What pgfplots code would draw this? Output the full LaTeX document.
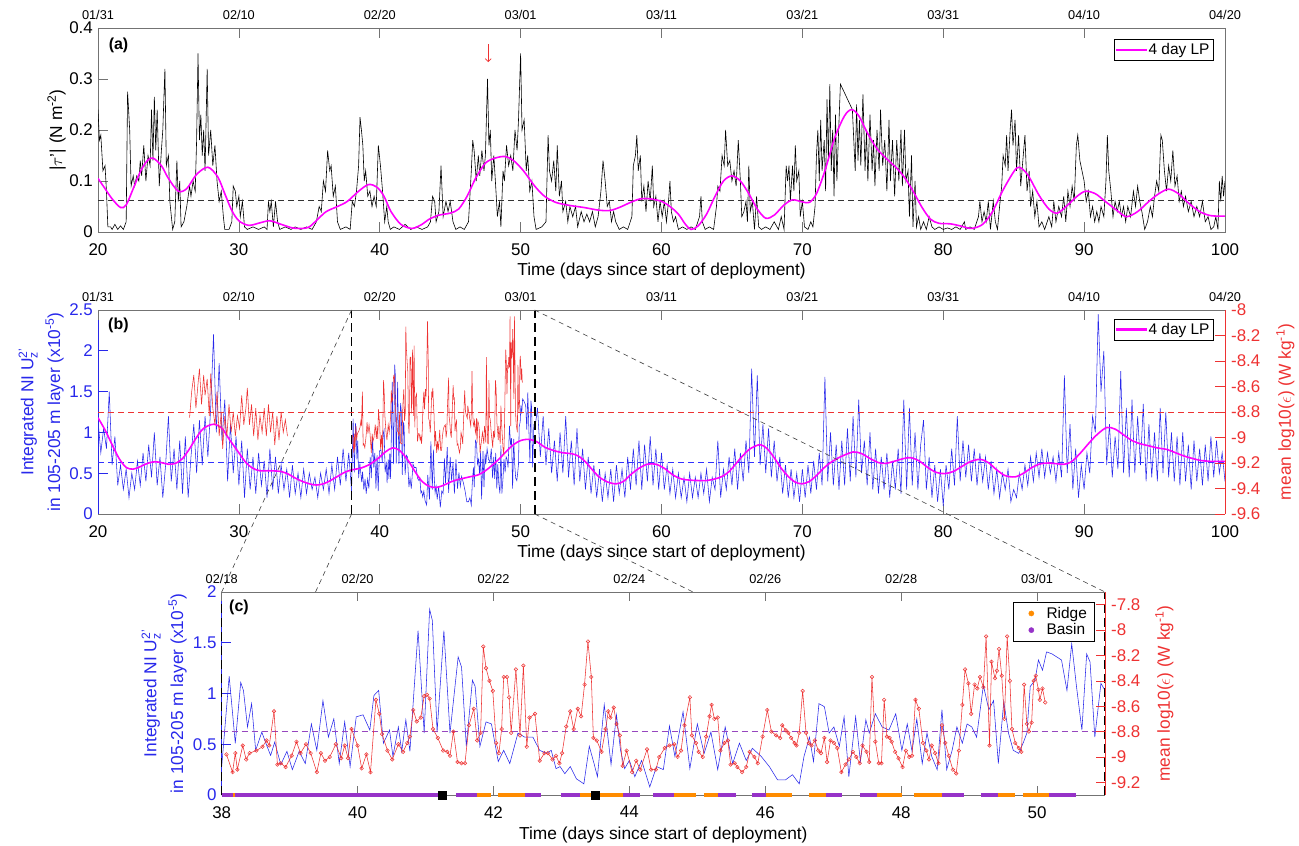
\documentclass[border=0pt]{standalone}
\usepackage{fontspec}
\setmainfont{Liberation Sans}
\usepackage{amsmath}
\usepackage{pgfplots}
\pgfplotsset{compat=1.18}
\usepackage{pgfplotstable}
\usetikzlibrary{arrows.meta}

\definecolor{lpmag}{RGB}{255,0,255}
\definecolor{ridge}{RGB}{255,140,0}
\definecolor{basin}{RGB}{150,50,200}
\definecolor{axgray}{RGB}{115,115,115}
\definecolor{dashpurp}{RGB}{150,70,190}
\definecolor{myred}{RGB}{238,50,50}
\definecolor{myblue}{RGB}{40,40,235}
\definecolor{dashblue}{RGB}{50,50,255}

\newcommand{\tfs}{\fontsize{17}{20}\selectfont}
\newcommand{\lfs}{\fontsize{17.4}{21}\selectfont}
\newcommand{\dfs}{\fontsize{12.8}{15}\selectfont}
\newcommand{\gfs}{\fontsize{15.5}{18}\selectfont}
\newcommand{\pfs}{\bfseries\fontsize{16}{19}\selectfont}

\pgfplotsset{
 base/.style={
  scale only axis, anchor=south west,
  tick align=inside, major tick length=10bp,
  scaled ticks=false,
  /pgf/number format/assume math mode=true,
  tick label style={font=\tfs},
  label style={font=\lfs},
  axis line style={axgray, line width=0.6pt},
  tick style={axgray, line width=0.6pt},
  x axis line style={-}, y axis line style={-},
  every outer x axis line/.append style={-},
  every outer y axis line/.append style={-},
 },
 botx/.style={xticklabel style={inner sep=0pt, anchor=north, yshift=-11bp},
   xlabel style={inner sep=0pt, at={(axis description cs:0.5,#1)}, anchor=north}},
 topx/.style={xticklabel style={font=\dfs, inner sep=0pt, anchor=south, yshift=8bp}},
 lpkey/.style={legend image code/.code={\fill[color=lpmag] (0bp,-0.8bp) rectangle (30bp,0.8bp);}},
 ridgekey/.style={legend image code/.code={\fill[color=ridge] (13bp,0bp) circle[radius=2.6bp]; \path (0bp,0bp) (26bp,0bp);}},
 basinkey/.style={legend image code/.code={\fill[color=basin] (13bp,0bp) circle[radius=2.6bp]; \path (0bp,0bp) (26bp,0bp);}},
}

% ---------------- panel (a) data ----------------
\pgfplotstableread{
x y
20.0 0.24
20.1 0.18
20.2 0.19
20.35 0.12
20.5 0.13
20.6 0.08
20.7 0.01
20.9 0.01
21.0 0.005
21.2 0.015
21.4 0.005
21.6 0.012
21.8 0.005
22.0 0.02
22.1 0.275
22.25 0.2
22.35 0.09
22.5 0.11
22.6 0.09
22.75 0.11
22.9 0.1
23.0 0.14
23.1 0.11
23.25 0.17
23.4 0.1
23.55 0.15
23.7 0.13
23.8 0.24
23.9 0.14
24.0 0.265
24.1 0.16
24.2 0.24
24.35 0.09
24.5 0.16
24.6 0.2
24.75 0.32
24.85 0.13
25.0 0.15
25.1 0.06
25.3 0.005
25.45 0.02
25.6 0.14
25.7 0.06
25.8 0.1
25.9 0.01
26.1 0.02
26.3 0.05
26.5 0.09
26.6 0.07
26.75 0.1
26.9 0.08
27.0 0.18
27.1 0.35
27.2 0.18
27.3 0.23
27.4 0.15
27.5 0.2
27.6 0.12
27.75 0.32
27.85 0.15
28.0 0.2
28.15 0.13
28.3 0.17
28.45 0.1
28.6 0.06
28.75 0.08
28.9 0.03
29.0 0.005
29.3 0.005
29.5 0.02
29.6 0.09
29.75 0.08
29.85 0.05
30.0 0.07
30.1 0.03
30.25 0.06
30.4 0.01
30.6 0.005
31.0 0.01
31.4 0.005
31.8 0.01
32.0 0.005
32.1 0.06
32.2 0.04
32.3 0.06
32.45 0.01
32.6 0.06
32.75 0.02
32.9 0.005
33.3 0.01
33.7 0.005
34.0 0.01
34.4 0.005
34.8 0.01
35.2 0.005
35.5 0.02
35.7 0.05
35.85 0.04
36.0 0.1
36.15 0.08
36.3 0.16
36.45 0.12
36.55 0.13
36.7 0.07
36.85 0.09
37.0 0.02
37.2 0.005
37.6 0.01
37.9 0.005
38.05 0.06
38.2 0.05
38.35 0.08
38.5 0.13
38.6 0.225
38.7 0.2
38.8 0.17
38.9 0.1
39.0 0.12
39.15 0.07
39.3 0.08
39.45 0.05
39.6 0.07
39.75 0.05
39.9 0.17
40.05 0.13
40.2 0.08
40.35 0.02
40.5 0.05
40.6 0.02
40.75 0.005
41.0 0.01
41.4 0.005
41.8 0.015
42.2 0.005
42.6 0.01
43.0 0.005
43.4 0.01
43.6 0.02
43.75 0.07
43.9 0.06
44.0 0.02
44.2 0.04
44.35 0.13
44.5 0.03
44.7 0.06
44.85 0.04
45.0 0.06
45.2 0.02
45.4 0.005
45.7 0.01
46.0 0.005
46.3 0.02
46.5 0.12
46.6 0.18
46.7 0.16
46.85 0.1
47.0 0.15
47.1 0.11
47.25 0.16
47.4 0.12
47.5 0.15
47.65 0.3
47.75 0.17
47.85 0.2
47.95 0.1
48.1 0.15
48.25 0.08
48.35 0.03
48.5 0.06
48.6 0.01
48.75 0.12
48.85 0.1
49.0 0.17
49.15 0.13
49.3 0.15
49.45 0.12
49.6 0.2
49.75 0.16
49.85 0.22
50.0 0.35
50.1 0.2
50.25 0.22
50.4 0.12
50.5 0.15
50.65 0.08
50.8 0.1
50.95 0.03
51.1 0.005
51.5 0.01
51.8 0.02
51.95 0.19
52.05 0.12
52.2 0.1
52.35 0.14
52.5 0.08
52.6 0.17
52.75 0.07
52.9 0.1
53.0 0.04
53.2 0.06
53.35 0.02
53.5 0.05
53.7 0.03
53.9 0.05
54.05 0.01
54.3 0.04
54.5 0.02
54.7 0.035
54.9 0.02
55.1 0.04
55.3 0.01
55.5 0.03
55.7 0.08
55.85 0.14
56.0 0.1
56.15 0.05
56.3 0.06
56.45 0.02
56.6 0.04
56.75 0.02
57.0 0.005
57.3 0.01
57.6 0.005
57.9 0.03
58.0 0.13
58.15 0.15
58.25 0.19
58.35 0.12
58.5 0.15
58.6 0.06
58.75 0.09
58.9 0.04
59.05 0.1
59.2 0.06
59.35 0.13
59.45 0.05
59.6 0.07
59.75 0.02
59.9 0.06
60.05 0.03
60.2 0.06
60.35 0.02
60.5 0.06
60.6 0.1
60.7 0.04
60.85 0.02
61.0 0.03
61.2 0.005
61.5 0.01
61.8 0.005
62.1 0.01
62.4 0.005
62.7 0.03
62.8 0.07
62.9 0.02
63.1 0.005
63.4 0.01
63.7 0.005
63.9 0.05
64.0 0.09
64.15 0.08
64.3 0.15
64.45 0.13
64.55 0.2
64.7 0.13
64.85 0.14
65.0 0.1
65.15 0.12
65.3 0.09
65.45 0.18
65.6 0.1
65.7 0.03
65.85 0.04
66.0 0.06
66.1 0.02
66.2 0.13
66.3 0.04
66.45 0.06
66.6 0.005
66.75 0.07
66.9 0.01
67.1 0.005
67.4 0.01
67.7 0.005
68.0 0.02
68.3 0.005
68.5 0.03
68.7 0.005
68.85 0.13
68.95 0.1
69.05 0.13
69.15 0.06
69.3 0.13
69.4 0.08
69.5 0.17
69.6 0.1
69.75 0.12
69.85 0.03
70.0 0.06
70.15 0.01
70.4 0.005
70.6 0.02
70.75 0.01
70.9 0.05
71.0 0.15
71.1 0.2
71.2 0.1
71.3 0.22
71.4 0.12
71.55 0.18
71.65 0.08
71.75 0.26
71.85 0.14
71.95 0.29
72.05 0.12
72.15 0.2
72.25 0.07
72.35 0.23
72.45 0.1
72.55 0.18
72.7 0.29
73.55 0.24
73.65 0.18
73.75 0.12
73.85 0.25
73.95 0.14
74.05 0.22
74.15 0.13
74.3 0.27
74.45 0.12
74.55 0.2
74.65 0.1
74.8 0.23
74.95 0.12
75.05 0.18
75.15 0.09
75.3 0.2
75.45 0.12
75.55 0.24
75.7 0.13
75.85 0.18
76.0 0.08
76.15 0.22
76.25 0.1
76.4 0.18
76.55 0.07
76.7 0.18
76.85 0.1
77.0 0.2
77.1 0.09
77.25 0.2
77.35 0.1
77.5 0.12
77.6 0.03
77.75 0.15
77.85 0.01
78.0 0.1
78.1 0.01
78.25 0.03
78.4 0.005
78.6 0.02
78.8 0.005
79.0 0.03
79.2 0.01
79.4 0.005
79.7 0.01
80.0 0.005
80.3 0.008
80.6 0.005
80.9 0.01
81.2 0.005
81.5 0.02
81.6 0.005
81.9 0.01
82.2 0.005
82.5 0.03
82.6 0.06
82.75 0.02
82.9 0.04
83.05 0.02
83.2 0.06
83.35 0.005
83.55 0.06
83.7 0.02
83.85 0.005
84.0 0.05
84.15 0.09
84.25 0.15
84.4 0.13
84.5 0.19
84.6 0.12
84.75 0.2
84.85 0.24
84.95 0.17
85.1 0.22
85.2 0.12
85.35 0.19
85.5 0.09
85.65 0.14
85.8 0.19
85.95 0.08
86.1 0.12
86.2 0.05
86.35 0.08
86.5 0.03
86.65 0.06
86.8 0.01
87.0 0.02
87.2 0.005
87.5 0.03
87.7 0.01
87.85 0.06
88.0 0.02
88.2 0.05
88.4 0.03
88.55 0.07
88.7 0.02
88.85 0.08
89.0 0.05
89.15 0.09
89.3 0.06
89.45 0.17
89.55 0.19
89.7 0.14
89.85 0.12
90.0 0.1
90.15 0.06
90.3 0.08
90.45 0.03
90.6 0.05
90.75 0.02
90.9 0.04
91.05 0.02
91.2 0.05
91.4 0.03
91.55 0.1
91.65 0.19
91.75 0.12
91.9 0.08
92.05 0.03
92.2 0.06
92.35 0.04
92.5 0.06
92.65 0.03
92.8 0.05
92.95 0.02
93.1 0.05
93.3 0.03
93.5 0.08
93.65 0.05
93.8 0.09
93.95 0.06
94.1 0.04
94.3 0.005
94.5 0.02
94.7 0.05
94.85 0.03
95.0 0.07
95.15 0.1
95.3 0.08
95.45 0.19
95.55 0.18
95.7 0.12
95.85 0.08
96.0 0.13
96.15 0.1
96.3 0.16
96.45 0.09
96.6 0.11
96.75 0.06
96.9 0.08
97.05 0.05
97.2 0.07
97.4 0.04
97.6 0.06
97.8 0.03
98.0 0.05
98.2 0.03
98.4 0.06
98.6 0.02
98.8 0.03
99.0 0.005
99.2 0.01
99.35 0.03
99.5 0.005
99.6 0.1
99.7 0.06
99.8 0.11
99.9 0.07
100.0 0.1
}\taua

\pgfplotstableread{
x y
20 0.105
20.5 0.085
21 0.065
21.6 0.048
22 0.053
22.5 0.085
23 0.118
23.5 0.14
23.9 0.145
24.5 0.13
25 0.105
25.7 0.08
26.3 0.085
27 0.113
27.8 0.127
28.5 0.108
29 0.075
29.5 0.042
30 0.022
30.7 0.013
31.5 0.018
32.2 0.022
33 0.015
33.8 0.008
34.5 0.007
35 0.01
35.6 0.025
36.2 0.04
37 0.05
37.7 0.06
38.5 0.08
39.2 0.093
39.8 0.088
40.3 0.07
40.8 0.04
41.5 0.015
42.3 0.007
43 0.015
43.5 0.025
44.2 0.033
45 0.037
45.6 0.045
46.2 0.07
46.8 0.105
47.5 0.135
48.2 0.145
48.9 0.148
49.5 0.14
50.2 0.12
51 0.09
51.7 0.07
52.5 0.058
53.5 0.052
54.5 0.048
55.5 0.043
56.3 0.042
57 0.048
57.8 0.058
58.5 0.065
59.2 0.065
60 0.06
60.6 0.05
61.2 0.035
61.7 0.015
62.1 0.005
62.6 0.012
63.2 0.035
63.8 0.07
64.4 0.1
65 0.11
65.6 0.1
66.2 0.075
66.8 0.045
67.4 0.027
68 0.033
68.7 0.053
69.3 0.063
70 0.059
70.5 0.058
71 0.075
71.6 0.12
72.3 0.185
73 0.228
73.5 0.24
74 0.228
74.6 0.195
75.3 0.163
76 0.143
76.7 0.125
77.3 0.105
77.9 0.078
78.5 0.048
79.1 0.025
79.7 0.017
80.5 0.016
81.2 0.012
82 0.007
82.8 0.015
83.5 0.04
84.2 0.08
85 0.118
85.4 0.127
86 0.112
86.8 0.072
87.5 0.045
88.1 0.037
88.8 0.052
89.5 0.07
90.1 0.08
90.8 0.075
91.5 0.06
92.3 0.043
93 0.03
93.8 0.04
94.6 0.06
95.3 0.075
96 0.084
96.7 0.075
97.4 0.057
98.2 0.04
99 0.032
100 0.031
}\lpa

% ---------------- panel (b)/(c) data ----------------
\pgfplotstableread{
x y
20.0 1.15
20.2 0.75
20.4 1.05
20.6 0.8
20.8 1.5
21.0 0.6
21.2 0.95
21.4 0.35
21.6 0.6
21.8 0.3
22.0 0.55
22.2 0.2
22.4 0.5
22.6 0.3
22.8 0.65
23.0 0.35
23.2 0.75
23.4 0.4
23.6 0.85
23.8 0.45
24.0 1.0
24.2 0.35
24.4 0.7
24.6 0.2
24.8 0.6
25.0 1.2
25.2 0.4
25.4 0.8
25.6 0.3
25.8 0.9
26.0 0.25
26.2 0.95
26.4 0.2
26.6 0.7
26.8 1.1
27.0 0.5
27.2 1.15
27.4 0.6
27.6 1.2
27.8 0.7
28.0 1.3
28.2 2.2
28.4 1.0
28.6 1.85
28.8 0.9
29.0 1.4
29.2 0.4
29.4 1.1
29.6 0.5
29.8 0.95
30.0 0.35
30.2 0.9
30.4 0.2
30.6 0.8
30.8 0.3
31.0 0.7
31.2 0.25
31.4 0.75
31.6 0.35
31.8 0.65
32.0 0.2
32.2 0.8
32.4 0.3
32.6 0.7
32.8 0.25
33.0 0.6
33.2 0.3
33.4 0.55
33.6 0.2
33.8 0.6
34.0 0.25
34.2 0.5
34.4 0.2
34.6 0.55
34.8 0.25
35.0 0.5
35.2 0.3
35.4 0.45
35.6 0.2
35.8 0.5
36.0 0.3
36.2 0.55
36.4 0.25
36.6 0.6
36.8 0.3
37.0 0.7
37.2 0.35
37.4 0.8
37.6 0.4
37.8 0.75
38.0 0.28
}\blueA

\pgfplotstableread{
x y
38.0 0.28
38.11 1.17
38.2 0.51
38.28 1.11
38.32 1.03
38.38 0.67
38.44 0.9
38.5 0.44
38.59 0.62
38.65 0.51
38.72 0.39
38.78 0.52
38.87 0.3
38.96 0.43
39.04 0.25
39.14 0.43
39.23 0.31
39.32 0.7
39.4 0.44
39.49 0.93
39.57 0.57
39.65 0.75
39.73 0.31
39.81 0.72
39.89 0.28
39.98 0.77
40.08 0.79
40.18 0.64
40.24 0.98
40.31 1.03
40.38 0.51
40.47 0.64
40.52 0.38
40.6 0.67
40.65 0.43
40.71 0.74
40.77 0.43
40.89 1.62
40.98 0.61
41.06 1.83
41.1 1.72
41.17 0.62
41.27 1.62
41.36 0.61
41.48 1.36
41.53 1.26
41.6 0.48
41.69 1.13
41.73 1.07
41.8 0.48
41.89 0.72
41.97 0.7
42.07 0.33
42.15 0.44
42.24 0.31
42.36 0.61
42.46 0.57
42.58 0.57
42.68 0.44
42.78 0.41
42.85 0.44
42.92 0.26
42.98 0.28
43.05 0.21
43.13 0.28
43.22 0.16
43.33 0.11
43.41 0.48
43.48 0.31
43.53 0.18
43.63 0.89
43.73 0.3
43.81 0.79
43.87 0.44
43.93 0.26
44.0 0.34
44.08 0.18
44.18 0.34
44.3 0.08
44.4 0.28
44.5 0.25
44.59 0.68
44.67 0.38
44.79 0.82
44.89 0.26
45.0 0.7
45.1 0.41
45.2 0.62
45.3 0.25
45.41 0.67
45.52 0.31
45.62 0.51
45.72 0.34
45.81 0.46
45.94 0.38
46.06 0.28
46.18 0.15
46.3 0.15
46.4 0.2
46.5 0.11
46.57 0.38
46.65 0.57
46.71 0.33
46.79 0.9
46.87 0.87
46.94 0.61
47.01 0.67
47.09 0.48
47.16 0.77
47.23 0.18
47.33 0.77
47.4 0.33
47.48 0.74
47.53 0.61
47.62 0.8
47.72 0.67
47.82 0.64
47.92 0.8
48.01 0.44
48.09 0.7
48.16 0.43
48.23 0.75
48.31 0.31
48.38 0.61
48.45 0.38
48.53 0.25
48.6 0.84
48.67 0.25
48.75 0.44
48.82 0.67
48.9 0.51
48.97 0.7
49.04 0.67
49.11 0.57
49.21 1.08
49.29 0.84
49.36 0.93
49.43 0.31
49.51 0.92
49.58 0.61
49.65 0.44
49.73 0.41
49.8 0.52
49.85 0.61
49.9 1.07
49.97 1.13
50.02 1.33
50.08 1.23
50.14 1.41
50.22 1.39
50.29 1.36
50.36 1.33
50.44 1.03
50.51 1.49
50.58 1.07
50.66 0.64
50.73 1.39
50.78 1.31
50.85 0.57
50.94 1.1
51.0 1.03
}\blueC

\pgfplotstableread{
x y
51.0 1.03
51.2 1.3
51.4 0.7
51.6 1.2
51.8 0.6
52.0 1.05
52.2 0.5
52.4 0.9
52.6 0.4
52.8 1.0
53.0 0.5
53.2 1.2
53.4 0.45
53.6 0.9
53.8 0.35
54.0 1.05
54.2 0.4
54.4 0.8
54.6 0.3
54.8 0.7
55.0 0.25
55.2 0.6
55.4 0.2
55.6 0.55
55.8 0.15
56.0 0.5
56.2 0.2
56.4 0.55
56.6 0.15
56.8 0.6
57.0 0.25
57.2 0.55
57.4 0.2
57.6 0.7
57.8 0.3
58.0 0.8
58.2 0.35
58.4 0.9
58.6 0.3
58.8 0.85
59.0 0.4
59.2 0.95
59.4 0.35
59.6 0.8
59.8 0.3
60.0 0.75
60.2 0.3
60.4 0.6
60.6 0.25
60.8 0.55
61.0 0.2
61.2 0.5
61.4 0.2
61.6 0.45
61.8 0.15
62.0 0.5
62.2 0.2
62.4 0.45
62.6 0.2
62.8 0.5
63.0 0.25
63.2 0.55
63.4 0.15
63.6 0.45
63.8 0.3
64.0 0.9
64.2 0.2
64.4 0.55
64.6 0.3
64.8 0.7
65.0 0.35
65.2 0.8
65.4 0.3
65.6 0.75
65.8 0.4
66.0 0.9
66.2 0.5
66.4 1.78
66.6 0.7
66.8 1.7
67.0 0.6
67.2 1.1
67.4 0.5
67.6 1.05
67.8 0.45
68.0 0.9
68.2 0.4
68.4 0.7
68.6 0.25
68.8 0.6
69.0 0.2
69.2 0.55
69.4 0.2
69.6 0.5
69.8 0.15
70.0 0.55
70.2 0.2
70.4 0.6
70.6 0.25
70.8 0.65
71.0 0.3
71.2 0.75
71.4 0.35
71.6 1.68
71.8 0.4
72.0 1.0
72.2 0.35
72.4 0.85
72.6 0.3
72.8 0.9
73.0 0.35
73.2 1.05
73.4 0.4
73.6 1.2
73.8 0.45
74.0 1.4
74.2 0.5
74.4 0.9
74.6 0.35
74.8 1.0
75.0 0.3
75.2 0.8
75.4 0.25
75.6 0.7
75.8 0.3
76.0 0.75
76.2 0.2
76.4 0.65
76.6 0.3
76.8 0.8
77.0 0.25
77.2 1.4
77.4 0.3
77.6 1.3
77.8 0.35
78.0 1.0
78.2 0.3
78.4 0.85
78.6 1.15
78.8 0.3
79.0 0.7
79.2 0.2
79.4 0.6
79.6 0.15
79.8 0.55
80.0 0.1
80.2 0.6
80.4 0.3
80.6 0.8
80.8 0.35
81.0 1.2
81.2 0.4
81.4 0.9
81.6 0.45
81.8 0.85
82.0 0.4
82.2 0.8
82.4 0.35
82.6 0.75
82.8 0.4
83.0 0.7
83.2 0.3
83.4 0.65
83.6 0.25
83.8 0.55
84.0 0.2
84.2 0.5
84.4 0.3
84.6 0.55
84.8 0.15
85.0 0.3
85.2 0.2
85.4 0.5
85.6 0.3
85.8 0.6
86.0 0.35
86.2 0.7
86.4 0.4
86.6 0.75
86.8 0.45
87.0 0.8
87.2 0.45
87.4 0.75
87.6 0.5
87.8 0.7
88.0 0.4
88.2 0.75
88.4 0.45
88.6 1.7
88.8 0.5
89.0 1.1
89.2 0.3
89.4 0.8
89.6 0.2
89.8 0.6
90.0 0.3
90.2 0.75
90.4 0.5
90.6 1.2
90.8 1.0
91.0 2.45
91.2 1.5
91.4 2.0
91.6 0.6
91.8 1.1
92.0 0.45
92.2 0.95
92.4 0.55
92.6 1.75
92.8 0.5
93.0 1.3
93.2 0.45
93.4 1.4
93.6 0.5
93.8 1.2
94.0 0.6
94.2 1.35
94.4 0.4
94.6 1.1
94.8 0.45
95.0 1.0
95.2 0.4
95.4 1.3
95.6 0.5
95.8 1.25
96.0 0.45
96.2 1.0
96.4 0.4
96.6 0.95
96.8 0.35
97.0 1.0
97.2 0.4
97.4 0.85
97.6 0.3
97.8 0.9
98.0 0.4
98.2 0.8
98.4 0.35
98.6 0.85
98.8 0.4
99.0 0.95
99.2 0.45
99.4 0.9
99.6 0.5
99.8 0.75
100.0 0.4
}\blueD

\pgfplotstableread{
x y
20 1.18
20.5 1.03
21 0.85
21.5 0.68
22 0.57
22.5 0.55
23 0.58
23.5 0.62
24 0.64
24.5 0.63
25 0.61
25.5 0.62
26 0.68
26.5 0.8
27 0.94
27.5 1.05
28.2 1.1
28.8 1.05
29.3 0.92
30 0.75
30.5 0.63
31 0.56
31.5 0.53
32.3 0.53
33 0.52
33.5 0.49
34 0.44
34.5 0.4
35 0.37
35.5 0.355
36 0.37
36.5 0.41
37 0.46
37.5 0.51
38 0.54
38.6 0.56
39.2 0.6
39.8 0.67
40.4 0.76
40.9 0.81
41.4 0.78
42 0.66
42.5 0.52
43 0.4
43.5 0.34
44 0.325
44.5 0.35
45 0.39
45.5 0.42
46 0.44
46.5 0.46
47 0.48
47.5 0.53
48 0.6
48.5 0.68
49 0.77
49.5 0.85
50 0.9
50.6 0.915
51.2 0.88
51.7 0.82
52.3 0.78
53 0.75
53.6 0.74
54.1 0.71
54.6 0.64
55.1 0.54
55.6 0.45
56.2 0.39
56.8 0.37
57.3 0.4
57.8 0.48
58.4 0.56
59 0.61
59.6 0.61
60.2 0.56
60.8 0.48
61.4 0.43
62 0.415
62.6 0.41
63.2 0.41
63.8 0.43
64.3 0.46
64.8 0.52
65.3 0.62
65.8 0.72
66.3 0.8
67 0.85
67.5 0.8
68 0.69
68.5 0.56
69 0.46
69.5 0.39
70 0.37
70.5 0.4
71 0.47
71.5 0.56
72 0.63
72.7 0.7
73.6 0.76
74.2 0.74
74.8 0.68
75.4 0.63
75.9 0.62
76.5 0.645
77.2 0.68
77.7 0.69
78.3 0.65
78.9 0.57
79.5 0.51
80.1 0.495
80.7 0.52
81.3 0.58
81.9 0.64
82.6 0.67
83.2 0.63
83.8 0.54
84.4 0.47
85.1 0.455
85.7 0.5
86.3 0.57
86.9 0.615
87.5 0.625
88.1 0.615
88.6 0.61
89.1 0.64
89.7 0.74
90.3 0.86
90.9 0.97
91.6 1.06
92.2 1.04
92.8 0.97
93.4 0.9
94 0.86
94.6 0.835
95.2 0.81
95.9 0.79
96.5 0.75
97.1 0.71
97.7 0.68
98.3 0.655
99 0.645
99.5 0.645
100 0.645
}\lpb

\pgfplotstableread{
x y
26.5 -8.845
26.65 -8.64
26.8 -8.51
26.95 -8.77
27.1 -8.58
27.2 -8.46
27.35 -8.74
27.5 -8.51
27.6 -8.67
27.75 -8.54
27.9 -8.83
28.0 -8.5
28.15 -8.77
28.3 -8.9
28.45 -8.64
28.6 -8.99
28.75 -8.8
28.85 -9.09
29.0 -8.83
29.15 -8.99
29.3 -8.74
29.45 -8.96
29.6 -8.8
29.75 -8.99
29.9 -8.83
30.05 -8.93
30.2 -8.67
30.35 -8.9
30.5 -8.77
30.6 -8.61
30.75 -8.9
30.9 -8.74
31.05 -8.99
31.2 -8.77
31.35 -9.02
31.5 -8.83
31.65 -8.96
31.8 -8.77
31.95 -8.99
32.1 -8.74
32.25 -8.96
32.4 -8.8
32.55 -9.06
32.7 -8.83
32.85 -9.02
33.0 -8.8
33.15 -8.96
33.3 -8.86
33.45 -8.99
}\redA

\pgfplotstableread{
x y
38.07 -8.98
38.16 -9.12
38.20 -8.97
38.23 -9.10
38.31 -8.91
38.36 -9.02
38.41 -8.97
38.51 -8.95
38.60 -8.92
38.66 -8.87
38.70 -8.91
38.77 -8.64
38.82 -9.06
38.87 -9.05
38.94 -9.08
39.03 -8.99
39.10 -8.88
39.16 -8.97
39.24 -8.90
39.31 -8.97
39.40 -9.12
39.46 -8.97
39.52 -9.03
39.59 -9.00
39.68 -8.90
39.76 -9.01
39.81 -8.91
39.86 -9.01
39.91 -8.78
40.00 -8.91
40.06 -9.09
40.13 -8.98
40.19 -9.12
40.27 -8.55
40.32 -8.66
40.36 -8.82
40.44 -8.95
40.51 -9.02
40.60 -8.90
40.67 -8.96
40.73 -8.89
40.77 -8.84
40.82 -8.63
40.87 -8.72
40.93 -8.69
40.98 -8.52
41.02 -8.51
41.06 -8.54
41.11 -8.78
41.18 -8.85
41.26 -8.95
41.32 -8.96
41.36 -8.99
41.41 -8.80
41.47 -9.04
41.53 -9.05
41.58 -9.05
41.64 -8.75
41.71 -8.62
41.76 -8.87
41.81 -8.81
41.85 -8.13
41.89 -8.30
41.94 -8.40
41.99 -8.48
42.04 -8.89
42.08 -8.97
42.12 -8.78
42.15 -8.37
42.20 -8.37
42.23 -8.53
42.26 -8.81
42.33 -8.31
42.39 -8.83
42.44 -8.28
42.49 -8.92
42.53 -8.69
42.61 -8.66
42.68 -9.03
42.75 -8.97
42.80 -8.97
42.87 -9.02
42.92 -8.99
42.97 -9.05
43.01 -8.97
43.07 -8.76
43.13 -8.64
43.18 -8.78
43.24 -8.62
43.29 -8.68
43.34 -8.43
43.39 -8.09
43.44 -8.37
43.47 -8.85
43.52 -8.87
43.59 -8.96
43.65 -8.78
43.69 -8.64
43.72 -8.69
43.77 -8.61
43.81 -8.74
43.86 -8.83
43.90 -9.07
43.96 -8.95
44.04 -9.12
44.10 -9.03
44.16 -9.10
44.26 -8.94
44.32 -9.10
44.39 -9.10
44.44 -9.00
44.52 -8.93
44.59 -8.91
44.66 -8.90
44.71 -9.00
44.76 -8.95
44.81 -8.75
44.89 -8.53
44.92 -8.83
44.98 -8.89
45.02 -8.96
45.08 -9.00
45.13 -8.84
45.18 -8.68
45.21 -8.59
45.25 -8.70
45.30 -8.69
45.34 -8.95
45.40 -8.89
45.45 -8.87
45.49 -9.06
45.55 -9.05
45.59 -9.08
45.66 -9.12
45.72 -9.08
45.77 -8.96
45.84 -9.00
45.89 -9.05
45.96 -8.84
46.03 -8.63
46.09 -8.80
46.16 -8.83
46.22 -8.85
46.25 -8.75
46.30 -8.79
46.34 -8.81
46.38 -8.85
46.43 -8.89
46.46 -8.91
46.50 -8.81
46.55 -8.48
46.60 -8.81
46.64 -8.89
46.68 -8.91
46.73 -8.87
46.78 -8.95
46.82 -8.97
46.87 -8.85
46.91 -9.04
46.96 -8.87
47.01 -8.89
47.06 -8.93
47.12 -9.12
47.18 -9.06
47.23 -9.02
47.29 -8.96
47.34 -9.00
47.39 -9.05
47.43 -8.91
47.49 -8.96
47.53 -9.04
47.57 -8.37
47.62 -8.88
47.67 -9.05
47.71 -9.05
47.75 -8.55
47.79 -8.84
47.83 -8.85
47.86 -8.88
47.91 -8.96
47.96 -9.01
48.02 -9.08
48.07 -8.95
48.12 -9.00
48.16 -8.99
48.21 -8.55
48.26 -8.62
48.32 -8.89
48.37 -8.95
48.41 -9.02
48.45 -8.91
48.50 -8.97
48.55 -9.05
48.60 -8.75
48.65 -8.89
48.70 -8.99
48.76 -9.10
48.81 -9.13
48.85 -8.95
48.90 -8.59
48.94 -8.31
48.99 -8.42
49.03 -8.66
49.08 -8.43
49.12 -8.46
49.16 -8.37
49.21 -8.45
49.25 -8.05
49.30 -8.91
49.33 -8.25
49.38 -8.38
49.41 -8.32
49.44 -8.15
49.48 -8.36
49.52 -8.70
49.56 -8.05
49.60 -8.40
49.63 -8.78
49.68 -8.89
49.73 -8.93
49.77 -8.96
49.81 -8.43
49.85 -8.74
49.88 -8.80
49.92 -8.73
49.95 -8.40
49.98 -8.36
50.02 -8.47
50.04 -8.55
50.08 -8.46
50.12 -8.57
}\redC

\begin{document}
\begin{tikzpicture}
\useasboundingbox (0,0) rectangle (1299bp,846bp);

% ================= (a) =================
\begin{axis}[base, botx=-0.152,
  at={(98bp,614bp)}, width=1127bp, height=204bp,
  xmin=20, xmax=100, ymin=0, ymax=0.4,
  xtick={20,30,...,100}, ytick={0,0.1,0.2,0.3,0.4},
  xtick pos=left, ytick pos=left,
  yticklabel style={inner sep=0pt, anchor=east, xshift=-5bp},
  xlabel={Time (days since start of deployment)},
  ylabel={|$\tau$'| (N m$^{\text{-2}}$)},
  ylabel style={inner sep=0pt, at={(axis description cs:-0.0284,0.5)}, anchor=south},
]
\addplot[color=black, line width=0.6pt, forget plot] table[x=x,y=y] {\taua};
\addplot[color=black!80, line width=0.6pt, dash pattern=on 6bp off 4bp, forget plot] coordinates {(20,0.0625)(100,0.0625)};
\addplot[color=lpmag, line width=1.6pt, smooth, forget plot] table[x=x,y=y] {\lpa};
\draw[myred, line width=0.7pt, -{Straight Barb[length=3bp]}] (axis cs:47.7,0.368) -- (axis cs:47.7,0.333);
\node[anchor=north west, inner sep=0pt, font=\pfs] at (rel axis cs:0.0094,0.951) {(a)};
\end{axis}
\begin{axis}[base, topx,
  at={(98bp,614bp)}, width=1127bp, height=204bp,
  xmin=20, xmax=100, ymin=0, ymax=1,
  axis x line*=top, axis y line=none,
  xtick={20,30,...,100},
  xticklabels={01/31,02/10,02/20,03/01,03/11,03/21,03/31,04/10,04/20},
  legend style={at={(axis description cs:0.990,0.946)}, anchor=north east,
     font=\gfs, inner sep=2pt},
]
\addlegendimage{lpkey}
\addlegendentry{4 day LP}
\end{axis}

% ================= (b) =================
\begin{axis}[base, botx=-0.152,
  at={(98bp,332bp)}, width=1127bp, height=204bp,
  xmin=20, xmax=100, ymin=0, ymax=2.5,
  axis x line*=bottom, axis y line*=left,
  y axis line style={myblue},
  xtick={20,30,...,100}, ytick={0,0.5,1,1.5,2,2.5},
  ytick style={myblue},
  yticklabel style={text=myblue, inner sep=0pt, anchor=east, xshift=-5bp},
  xlabel={Time (days since start of deployment)},
  ylabel={Integrated NI U$_{\text{z}}^{\text{2'}}$\\in 105-205 m layer (x10$^{\text{-5}}$)},
  ylabel style={inner sep=0pt, align=center, text=myblue, font=\fontsize{17.4}{27}\selectfont,
     at={(axis description cs:-0.0302,0.5)}, anchor=south},
]
\addplot[color=myblue, line width=0.55pt, forget plot] table[x=x,y=y] {\blueA};
\addplot[color=myblue, line width=0.55pt, forget plot] table[x=x,y=y] {\blueC};
\addplot[color=myblue, line width=0.55pt, forget plot] table[x=x,y=y] {\blueD};
\addplot[color=dashblue, line width=1pt, dash pattern=on 6bp off 4bp, forget plot] coordinates {(20,0.625)(100,0.625)};
\addplot[color=lpmag, line width=1.6pt, smooth, forget plot] table[x=x,y=y] {\lpb};
\addplot[color=black, line width=1.6pt, dash pattern=on 9bp off 5bp, forget plot] coordinates {(38,0)(38,2.5)};
\addplot[color=black, line width=1.6pt, dash pattern=on 9bp off 5bp, forget plot] coordinates {(51,0)(51,2.5)};
\coordinate (bTL) at (axis cs:38,2.5);
\coordinate (bBL) at (axis cs:38,0);
\coordinate (bTR) at (axis cs:51,2.5);
\coordinate (bBR) at (axis cs:51,0);
\node[anchor=north west, inner sep=0pt, font=\pfs] at (rel axis cs:0.0089,0.961) {(b)};
\end{axis}
\begin{axis}[base, topx,
  at={(98bp,332bp)}, width=1127bp, height=204bp,
  xmin=20, xmax=100, ymin=-9.6, ymax=-8,
  axis x line*=top, axis y line*=right,
  y axis line style={myred},
  xtick={20,30,...,100},
  xticklabels={01/31,02/10,02/20,03/01,03/11,03/21,03/31,04/10,04/20},
  ytick={-9.6,-9.4,-9.2,-9,-8.8,-8.6,-8.4,-8.2,-8},
  ytick style={myred},
  yticklabel style={text=myred, inner sep=0pt, anchor=west, xshift=6bp,
     /pgf/number format/fixed, /pgf/number format/precision=1},
  ylabel={mean log10($\epsilon$) (W kg$^{\text{-1}}$)},
  ylabel style={inner sep=0pt, text=myred, at={(axis description cs:1.0453,0.5)}, anchor=north},
  legend style={at={(axis description cs:0.990,0.956)}, anchor=north east,
     font=\gfs, inner sep=2pt},
]
\addplot[color=myred, line width=0.55pt, forget plot] table[x=x,y=y] {\redA};
\addplot[color=myred, line width=0.55pt, forget plot] table[x=x,y=y] {\redC};
\addplot[color=myred, line width=0.8pt, dash pattern=on 6bp off 4bp, forget plot] coordinates {(20,-8.8)(100,-8.8)};
\addlegendimage{lpkey}
\addlegendentry{4 day LP}
\end{axis}

% zoom connector lines
\draw[black!75, line width=0.6pt, dash pattern=on 5bp off 4bp] (bTL) -- (221.7bp,254bp);
\draw[black!75, line width=0.6pt, dash pattern=on 5bp off 4bp] (bBL) -- (221.7bp,51bp);
\draw[black!75, line width=0.6pt, dash pattern=on 5bp off 4bp] (bTR) -- (1105bp,254bp);
\draw[black!75, line width=0.6pt, dash pattern=on 5bp off 4bp] (bBR) -- (1105bp,51bp);

% ================= (c) =================
\begin{axis}[base, botx=-0.158,
  at={(221.7bp,51bp)}, width=883.3bp, height=203bp,
  major tick length=9bp,
  axis background/.style={fill=white},
  clip=false,
  xmin=38, xmax=51, ymin=0, ymax=2,
  axis x line*=bottom, axis y line*=left,
  y axis line style={myblue},
  xtick={38,40,...,50}, ytick={0,0.5,1,1.5,2},
  ytick style={myblue},
  yticklabel style={text=myblue, inner sep=0pt, anchor=east, xshift=-5bp},
  xlabel={Time (days since start of deployment)},
  ylabel={Integrated NI U$_{\text{z}}^{\text{2'}}$\\in 105-205 m layer (x10$^{\text{-5}}$)},
  ylabel style={inner sep=0pt, align=center, text=myblue, font=\fontsize{17.4}{27}\selectfont,
     at={(axis description cs:-0.0393,0.5)}, anchor=south},
]
\addplot[color=myblue, line width=0.55pt, forget plot] table[x=x,y=y] {\blueC};
\addplot[color=dashpurp, line width=1pt, dash pattern=on 6bp off 4bp, forget plot] coordinates {(38,0.625)(51,0.625)};
\addplot[color=basin, line width=4.5bp, forget plot, unbounded coords=jump] coordinates {
(38.0,0)(38.16,0)(38.17,nan)
(38.2,0)(41.2,0)(41.3,nan)
(41.45,0)(41.75,0)(41.8,nan)
(42.46,0)(42.7,0)(42.8,nan)
(43.0,0)(43.27,0)(43.5,nan)
(43.9,0)(44.15,0)(44.2,nan)
(44.35,0)(44.66,0)(44.8,nan)
(45.3,0)(45.57,0)(45.6,nan)
(45.81,0)(46.01,0)(46.2,nan)
(46.89,0)(47.13,0)(47.2,nan)
(47.4,0)(47.65,0)(47.8,nan)
(48.6,0)(48.92,0)(49.0,nan)
(49.18,0)(49.43,0)(49.5,nan)
(50.17,0)(50.58,0)};
\addplot[color=ridge, line width=4.5bp, forget plot, unbounded coords=jump] coordinates {
(38.16,0)(38.2,0)(38.3,nan)
(41.75,0)(41.96,0)(42.0,nan)
(42.07,0)(42.46,0)(42.5,nan)
(43.27,0)(43.9,0)(44.0,nan)
(44.66,0)(44.98,0)(45.0,nan)
(45.1,0)(45.3,0)(45.4,nan)
(46.01,0)(46.4,0)(46.5,nan)
(46.65,0)(46.89,0)(46.9,nan)
(47.65,0)(48.01,0)(48.1,nan)
(48.19,0)(48.6,0)(48.7,nan)
(49.43,0)(49.68,0)(49.7,nan)
(49.8,0)(50.17,0)};
\addplot[only marks, mark=square*, mark size=4bp, color=black, forget plot] coordinates {(41.25,0)(43.5,0)};
\addplot[color=black, line width=1.6pt, dash pattern=on 9bp off 5bp, forget plot] coordinates {(38,0)(38,2)};
\addplot[color=black, line width=1.6pt, dash pattern=on 9bp off 5bp, forget plot] coordinates {(51,0)(51,2)};
\node[anchor=north west, inner sep=0pt, font=\pfs] at (rel axis cs:0.0083,0.961) {(c)};
\end{axis}
\begin{axis}[base, topx,
  at={(221.7bp,51bp)}, width=883.3bp, height=203bp,
  major tick length=9bp,
  xmin=38, xmax=51, ymin=-9.3, ymax=-7.7,
  axis x line*=top, axis y line*=right,
  y axis line style={myred},
  xtick={38,40,...,50},
  xticklabels={02/18,02/20,02/22,02/24,02/26,02/28,03/01},
  ytick={-9.2,-9,-8.8,-8.6,-8.4,-8.2,-8,-7.8},
  ytick style={myred},
  yticklabel style={text=myred, inner sep=0pt, anchor=west, xshift=6bp,
     /pgf/number format/fixed, /pgf/number format/precision=1},
  ylabel={mean log10($\epsilon$) (W kg$^{\text{-1}}$)},
  ylabel style={inner sep=0pt, text=myred, at={(axis description cs:1.0566,0.5)}, anchor=north},
  legend style={at={(axis description cs:0.9876,0.951)}, anchor=north east,
     font=\gfs, inner xsep=5pt, inner ysep=3pt},
  legend cell align=left,
]
\addplot[color=myred, line width=0.55pt, mark=o, mark size=1.8bp, mark options={solid, line width=0.5pt}, forget plot] table[x=x,y=y] {\redC};
\addlegendimage{ridgekey}
\addlegendentry{Ridge}
\addlegendimage{basinkey}
\addlegendentry{Basin}
\end{axis}
\end{tikzpicture}
\end{document}
